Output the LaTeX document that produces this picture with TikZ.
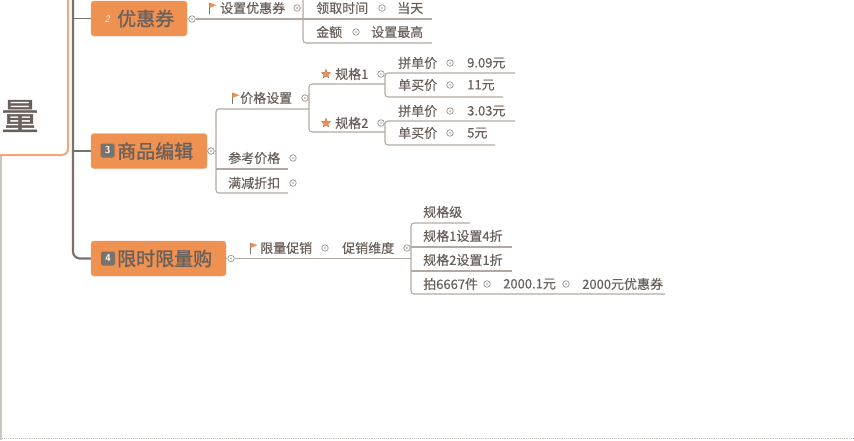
\documentclass[tikz,border=0pt]{standalone}
\usepackage{fontspec}
\newfontfamily\cjk{Noto Sans CJK SC}
\newfontfamily\cjkb[FakeBold=1.2]{Noto Sans CJK SC}
\newfontfamily\cjkm[FakeBold=0.4]{Noto Sans CJK SC}
\usetikzlibrary{shapes.geometric}
\definecolor{orangeF}{HTML}{EE9151}
\definecolor{txt}{HTML}{6A605B}
\definecolor{trunkc}{HTML}{7B716C}
\definecolor{subc}{HTML}{B3A9A2}
\definecolor{framec}{HTML}{CCC5C0}
\definecolor{knobc}{HTML}{9A918B}
\begin{document}
\begin{tikzpicture}[x=1pt,y=-1pt,
  topicbox/.style={fill=orangeF, draw=orangeF!85!white, rounded corners=3pt, inner sep=0pt, minimum height=35pt},
  topiclbl/.style={text=txt, font=\cjkb\fontsize{19}{19}\selectfont, inner sep=0pt, anchor=west},
  lbl/.style={text=txt, font=\cjkm\fontsize{13}{13}\selectfont, inner sep=0pt, anchor=west},
  badge/.style={fill=trunkc, rounded corners=2pt, text=white, font=\sffamily\bfseries\fontsize{10}{10}\selectfont, minimum size=14pt, inner sep=0pt},
  knob/.style={circle, draw=knobc, line width=0.7pt, fill=white, minimum size=6.5pt, inner sep=0pt,
    path picture={\fill[knobc] (path picture bounding box.center) circle (0.9pt);}},
  trunkline/.style={draw=trunkc, line width=2.2pt},
  branchline/.style={draw=trunkc, line width=1.6pt},
  subline/.style={draw=subc, line width=1.1pt},
  starmark/.style={star, star points=5, star point ratio=2.3, fill=orangeF, draw=orangeF!70!black, line width=0.3pt, minimum size=9.5pt, inner sep=0pt},
  flagpic/.pic={\draw[trunkc, line width=0.9pt] (0,-5.5) -- (0,5.5); \fill[orangeF] (0.4,-5.5) -- (7.5,-2.8) -- (0.4,0) -- cycle;}
]
\useasboundingbox (0,0) rectangle (854,440);
\clip (0,0) rectangle (854,440);
% frame
\draw[framec, line width=1.2pt] (1,0) -- (1,440);
\draw[framec, densely dotted, line width=0.9pt] (0,438.5) -- (854,438.5);
% root
\node[draw=orangeF!80, line width=2pt, rounded corners=6pt, fill=white, minimum width=80pt, minimum height=166pt, inner sep=0pt] (root) at (28,72) {};
\node[text=txt, font=\cjkb\fontsize{37}{37}\selectfont, inner sep=0pt] (rootlbl) at (20,116) {量};
% trunk
\draw[trunkline, rounded corners=7pt] (73,-3) -- (73,258.5) -- (91,258.5);
% main topics
\node[topicbox, minimum width=96pt] (m2) at (139,18.5) {};
\node[topicbox, minimum width=116pt] (m3) at (149,151) {};
\node[topicbox, minimum width=135pt] (m4) at (158.5,258.5) {};
\draw[branchline] (73,18.5) -- (m2.west);
\draw[branchline] (73,151) -- (m3.west);
\node[text=white, font=\sffamily\itshape\fontsize{10}{10}\selectfont, inner sep=0pt] (b2) at (107,19) {2};
\node[badge] (b3) at (107.5,150.5) {3};
\node[badge] (b4) at (108,258.5) {4};
\node[topiclbl] (m2t) at (117,18.5) {优惠券};
\node[topiclbl] (m3t) at (117,151) {商品编辑};
\node[topiclbl] (m4t) at (117,258.5) {限时限量购};
% knobs at main topics
\node[knob] (k2) at (192,19) {};
\node[knob] (k3) at (211,151) {};
\node[knob] (k4) at (231,258.5) {};
\draw[subline] (m2.east) -- (k2.west);
\draw[subline] (m3.east) -- (k3.west);
\draw[subline] (m4.east) -- (k4.west);

% ---- coupon branch
\draw[subline] (k2.east) -- (432,19);
\draw[subline, rounded corners=3pt] (303,-3) -- (303,43) -- (432,43);
\pic at (209,8) {flagpic};
\node[lbl] (c1) at (220,8) {设置优惠券};
\node[knob] (ka) at (297,8) {};
\node[lbl] (c2) at (316,8) {领取时间};
\node[knob] (kb) at (382,8) {};
\node[lbl] (c3) at (397,8) {当天};
\node[lbl] (c4) at (316,32) {金额};
\node[knob] (kc) at (356,32) {};
\node[lbl] (c5) at (371,32) {设置最高};

% ---- product branch
\draw[subline] (k3.east) -- (216,151);
\draw[subline, rounded corners=3pt] (309,109) -- (216,109) -- (216,193) -- (288,193);
\draw[subline] (216,169) -- (288,169);
\draw[subline, rounded corners=3pt] (385,84) -- (309,84) -- (309,132) -- (385,132);
\draw[subline, rounded corners=3pt] (515,73) -- (385,73) -- (385,97) -- (503,97);
\draw[subline, rounded corners=3pt] (515,121) -- (385,121) -- (385,145) -- (495,145);
\pic at (232,98) {flagpic};
\node[lbl] (p1) at (240,98) {价格设置};
\node[knob] (kd) at (305,98) {};
\node[starmark] (s1) at (326,74) {};
\node[lbl] (p2) at (335,74) {规格1};
\node[knob] (ke) at (381,74) {};
\node[starmark] (s2) at (326,123) {};
\node[lbl] (p3) at (335,123) {规格2};
\node[knob] (kf) at (381,123) {};
\node[lbl] (p4) at (398,63) {拼单价};
\node[knob] (kg) at (450,63) {};
\node[lbl] (p5) at (467,63) {9.09元};
\node[lbl] (p6) at (398,85) {单买价};
\node[knob] (kh) at (450,85) {};
\node[lbl] (p7) at (467,85) {11元};
\node[lbl] (p8) at (398,111) {拼单价};
\node[knob] (ki) at (450,111) {};
\node[lbl] (p9) at (467,111) {3.03元};
\node[lbl] (p10) at (398,133) {单买价};
\node[knob] (kj) at (450,133) {};
\node[lbl] (p11) at (467,133) {5元};
\node[lbl] (p12) at (228,158) {参考价格};
\node[knob] (kk) at (293,158) {};
\node[lbl] (p13) at (228,183) {满减折扣};
\node[knob] (kl) at (293,183) {};

% ---- flash sale branch
\draw[subline] (k4.east) -- (411,258.5);
\draw[subline, rounded corners=3pt] (470,223) -- (411,223) -- (411,294) -- (665,294);
\draw[subline] (411,247) -- (512,247);
\draw[subline] (411,271) -- (512,271);
\pic at (250,248) {flagpic};
\node[lbl] (f1) at (260,248) {限量促销};
\node[knob] (km) at (325,248) {};
\node[lbl] (f2) at (342,248) {促销维度};
\node[knob] (kn) at (407,248) {};
\node[lbl] (f3) at (423,212) {规格级};
\node[lbl] (f4) at (423,236) {规格1设置4折};
\node[lbl] (f5) at (423,260) {规格2设置1折};
\node[lbl] (f6) at (423,284) {拍6667件};
\node[knob] (ko) at (487,284) {};
\node[lbl] (f7) at (503,284) {2000.1元};
\node[knob] (kp) at (566,284) {};
\node[lbl] (f8) at (582,284) {2000元优惠券};
\end{tikzpicture}
\end{document}
